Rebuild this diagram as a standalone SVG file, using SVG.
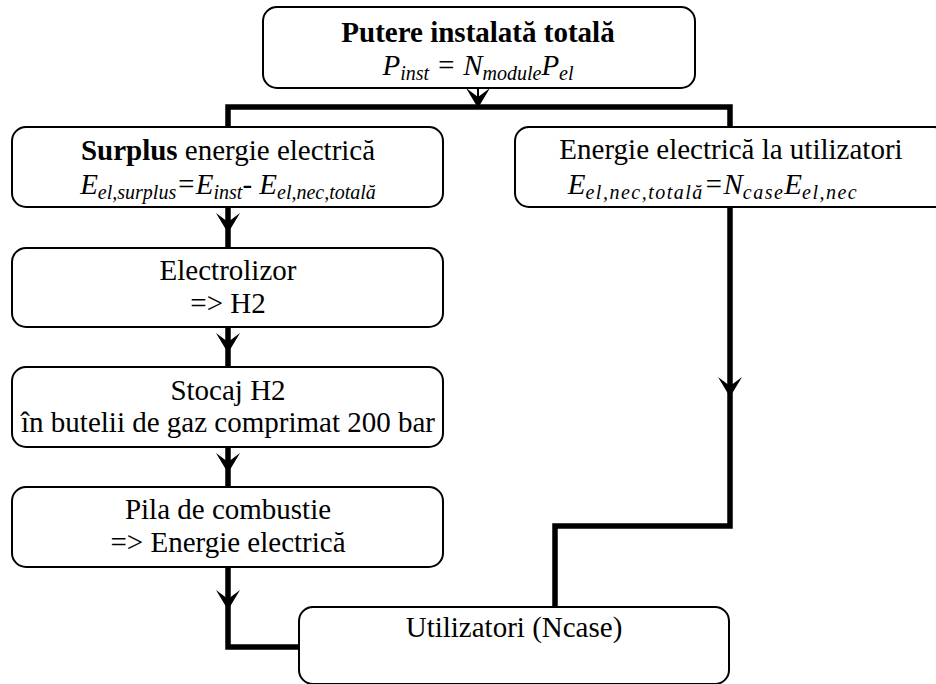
<svg xmlns="http://www.w3.org/2000/svg" width="936" height="684" viewBox="0 0 936 684">
<style>
.box{fill:#fff;stroke:#000;stroke-width:2}
.t{fill:#000;text-anchor:middle}
.b{font-weight:bold}
.i{font-style:italic}
.s{font-size:20px}
.ls{letter-spacing:1.5px}
.con{fill:none;stroke:#000;stroke-width:5.5;stroke-linejoin:miter;stroke-linecap:butt}
.thin{fill:none;stroke:#000;stroke-width:2}
</style>
<defs>
<path id="ah" d="M0,0 L-12,-20 L0,-11 L12,-20 Z" fill="#000"/>
</defs>
<rect width="936" height="684" fill="#fff"/>

<g id="connectors">
<path class="con" d="M228,127 V107 H730 V127"/>
<path class="thin" d="M478,75 V104"/>
<use href="#ah" x="478" y="108"/>
<path class="con" d="M228,207 V248"/>
<use href="#ah" x="228" y="233"/>
<path class="con" d="M228,327 V367"/>
<use href="#ah" x="228" y="353"/>
<path class="con" d="M228,447 V487"/>
<use href="#ah" x="228" y="473"/>
<path class="con" d="M228,567 V647 H299"/>
<use href="#ah" x="228" y="610"/>
<path class="con" d="M730,207 V526 H555 V607"/>
<use href="#ah" x="730" y="397"/>
</g>

<g id="nodes" font-family="Liberation Serif, Times New Roman, serif" font-size="29">
<g id="node-putere">
<rect class="box" x="263" y="7" width="432" height="81" rx="14"/>
<text class="t b" x="478" y="42" font-family="Liberation Serif" font-size="29">Putere instalată totală</text>
<text class="t i" x="478" y="75" font-family="Liberation Serif" font-size="29">P<tspan class="s" dy="5">inst</tspan><tspan dy="-5"> = N</tspan><tspan class="s" dy="5">module</tspan><tspan dy="-5">P</tspan><tspan class="s" dy="5">el</tspan></text>
</g>

<g id="node-surplus">
<rect class="box" x="12" y="127" width="431" height="80" rx="14"/>
<text class="t" x="228" y="160" font-family="Liberation Serif" font-size="29"><tspan class="b">Surplus</tspan> energie electrică</text>
<text class="t i" x="228" y="194" font-family="Liberation Serif" font-size="29">E<tspan class="s" dy="5">el,surplus</tspan><tspan dy="-5">=E</tspan><tspan class="s" dy="5">inst</tspan><tspan dy="-5">- E</tspan><tspan class="s" dy="5">el,nec,totală</tspan></text>
</g>

<g id="node-utilizatori-energie">
<rect class="box" x="515" y="127" width="433" height="80" rx="14"/>
<text class="t" x="731" y="159" font-family="Liberation Serif" font-size="29">Energie electrică la utilizatori</text>
<text class="t i" x="713" y="194" font-family="Liberation Serif" font-size="29">E<tspan class="s ls" dy="5">el,nec,totală</tspan><tspan dy="-5">=N</tspan><tspan class="s ls" dy="5">case</tspan><tspan dy="-5">E</tspan><tspan class="s ls" dy="5">el,nec</tspan></text>
</g>

<g id="node-electrolizor">
<rect class="box" x="12" y="248" width="431" height="79" rx="14"/>
<text class="t" x="228" y="280" font-family="Liberation Serif" font-size="29">Electrolizor</text>
<text class="t" x="228" y="313" font-family="Liberation Serif" font-size="29">=&gt; H2</text>
</g>

<g id="node-stocaj">
<rect class="box" x="12" y="367" width="431" height="80" rx="14"/>
<text class="t" x="228" y="400" font-family="Liberation Serif" font-size="29">Stocaj H2</text>
<text class="t" x="228" y="432" font-family="Liberation Serif" font-size="29">în butelii de gaz comprimat 200 bar</text>
</g>

<g id="node-pila">
<rect class="box" x="12" y="487" width="431" height="80" rx="14"/>
<text class="t" x="228" y="519" font-family="Liberation Serif" font-size="29">Pila de combustie</text>
<text class="t" x="228" y="552" font-family="Liberation Serif" font-size="29">=&gt; Energie electrică</text>
</g>

<g id="node-utilizatori">
<rect class="box" x="299" y="607" width="430" height="77" rx="14"/>
<text class="t" x="514" y="637" font-family="Liberation Serif" font-size="29">Utilizatori (Ncase)</text>
</g>
</g>
</svg>
